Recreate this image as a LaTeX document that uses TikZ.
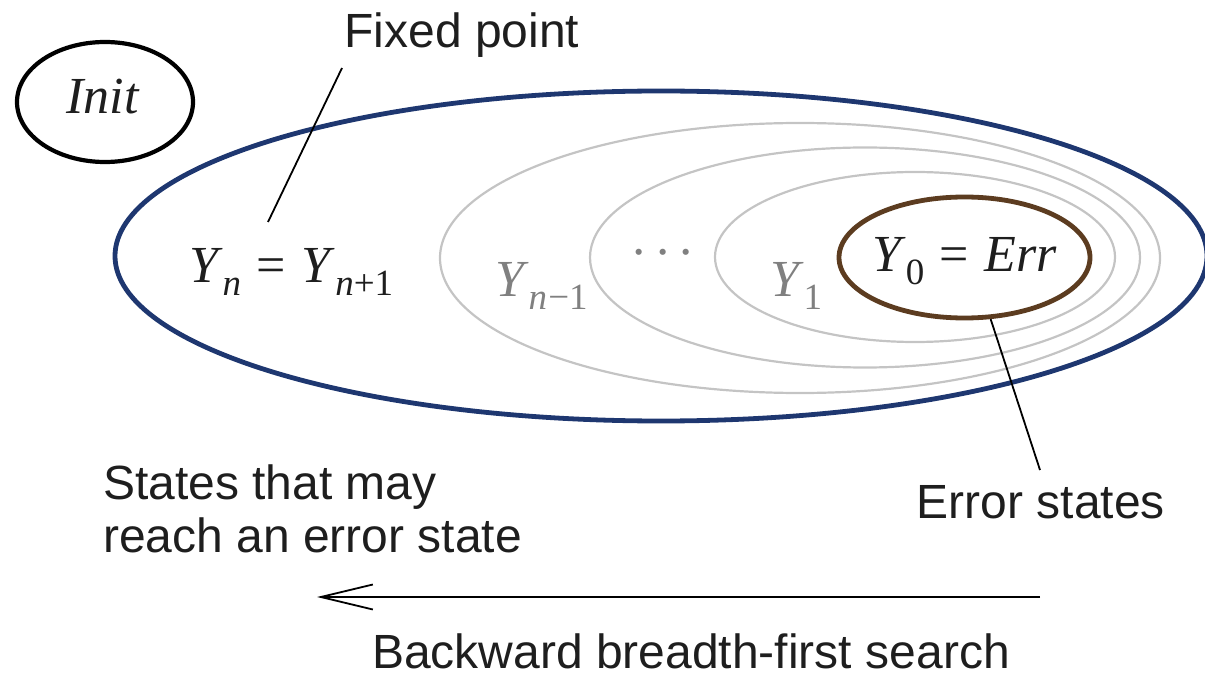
\documentclass[tikz,border=0pt]{standalone}
\usepackage{fontspec}
\setmainfont{Liberation Serif}
\newfontfamily\labfont{Liberation Sans}
\usetikzlibrary{arrows.meta,shapes.geometric}
\definecolor{bigblue}{RGB}{30,55,112}
\definecolor{errbrown}{RGB}{92,60,32}
\definecolor{ringgray}{RGB}{196,196,196}
\definecolor{txtgray}{RGB}{128,128,128}
\definecolor{inkblack}{RGB}{30,30,30}
\newcommand\subs[1]{\raisebox{-0.24em}{\fontsize{37}{37}\selectfont #1}}
\newcommand\eqs{\hspace{0.3em}=\hspace{0.3em}}
\tikzset{
  setshape/.style={ellipse, inner sep=0pt, draw},
  ring/.style={setshape, draw=ringgray, line width=2.2pt},
  mathlabel/.style={font=\fontsize{52}{52}\selectfont, inner sep=0pt, text=inkblack},
  graylabel/.style={mathlabel, text=txtgray},
  sanslabel/.style={font=\labfont\fontsize{48}{53}\selectfont, inner sep=0pt, text=inkblack},
  leader/.style={draw=black, line width=1.8pt}
}
\begin{document}
\begin{tikzpicture}[x=1pt,y=-1pt]
\useasboundingbox (0,0) rectangle (1205,676);
% sets
\node[setshape, draw=bigblue, line width=4.8pt, minimum width=1092pt, minimum height=330pt] (big) at (661,256) {};
\node[ring, minimum width=720pt, minimum height=270pt] (g1) at (800,258) {};
\node[ring, minimum width=550pt, minimum height=220pt] (g2) at (865,257.5) {};
\node[ring, minimum width=400pt, minimum height=170pt] (g3) at (915,257) {};
\node[setshape, draw=errbrown, line width=4.8pt, minimum width=251pt, minimum height=121pt] (err) at (964.5,257.5) {};
\node[setshape, draw=black, line width=4.2pt, minimum width=176pt, minimum height=120pt] (init) at (105,102) {};
% labels
\node[mathlabel, anchor=base] (initlab) at (103,114) {\textit{Init}};
\node[mathlabel, anchor=base west] (fix) at (189,283) {\textit{Y}\subs{\textit{n}}\eqs\textit{Y}\subs{\textit{n}+1}};
\node[graylabel, anchor=base west] (ynm) at (495,297) {\textit{Y}\subs{\textit{n}\kern0.03em−1}};
\node[graylabel, anchor=base] (dots) at (663,270) {\textperiodcentered\kern0.12em\textperiodcentered\kern0.12em\textperiodcentered};
\node[graylabel, anchor=base west] (y1) at (770,297) {\textit{Y}\subs{1}};
\node[mathlabel, anchor=base west] (y0) at (872,272) {\textit{Y}\subs{0}\eqs\textit{Err}};
\node[sanslabel, anchor=base] (fixlab) at (462,48) {Fixed point};
\node[sanslabel, anchor=base west, align=left] (reach) at (103,552) {States that may\\reach an error state};
\node[sanslabel, anchor=base] (errlab) at (1041,518) {Error states};
\node[sanslabel, anchor=base] (bfs) at (691,668) {Backward breadth-first search};
% leaders
\coordinate (fixtop) at (342,68);
\coordinate (fixend) at (268,222);
\draw[leader] (fixtop) -- (fixend);
\coordinate (errend) at (1040,470);
\draw[leader] (err.-67) -- (errend);
% arrow
\coordinate (arrstart) at (1040,597);
\coordinate (arrend) at (317,597);
\draw[leader, -{Straight Barb[length=52pt,width=25pt,line width=1.8pt]}] (arrstart) -- (arrend);
\end{tikzpicture}
\end{document}
